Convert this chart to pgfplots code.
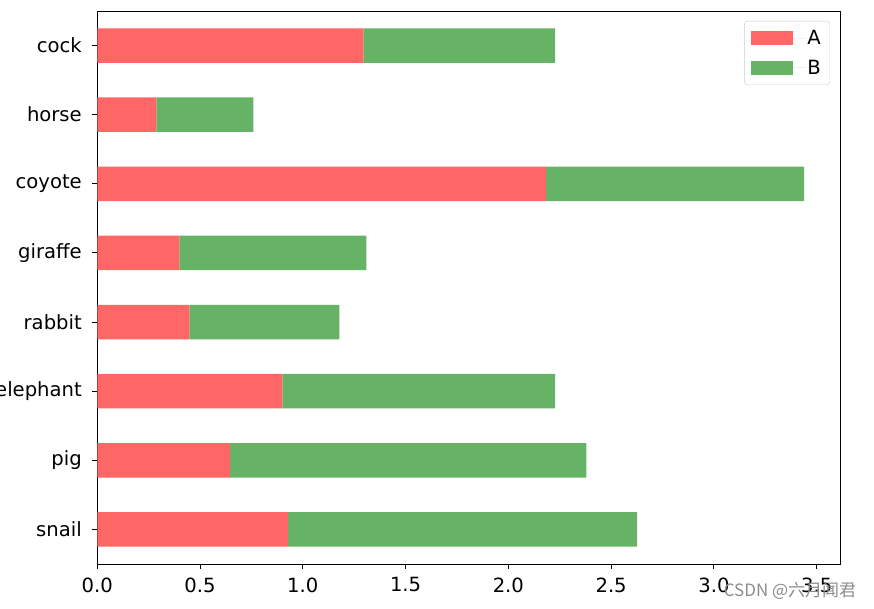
\documentclass[border=0pt]{standalone}
\usepackage{pgfplots}
\pgfplotsset{compat=1.18}
\usepackage{fontspec}
\setmainfont{DejaVu Sans}
\newfontfamily\cjk{Noto Sans CJK SC}

\definecolor{barA}{RGB}{255,102,102}
\definecolor{barB}{RGB}{102,179,102}

\begin{document}
\begin{tikzpicture}
\begin{axis}[
    name=ax,
    scale only axis,
    width=743.4pt, height=553pt,
    xbar stacked,
    bar width=0.5,
    xmin=0, xmax=3.617,
    ymin=-0.5, ymax=7.5,
    xtick={0,0.5,...,3.5},
    ytick={0,...,7},
    yticklabels={snail,pig,elephant,rabbit,giraffe,coyote,horse,cock},
    xticklabel style={/pgf/number format/fixed,/pgf/number format/precision=1,/pgf/number format/fixed zerofill, yshift=-5pt},
    yticklabel style={xshift=-7pt},
    /pgf/number format/assume math mode=true,
    tick label style={font=\fontsize{19.6}{23}\selectfont},
    tick align=outside, tick pos=left,
    major tick length=5pt,
    every tick/.style={black, line width=0.9pt},
    axis line style={line width=0.9pt},
    legend cell align=left,
    legend style={at={(0.9856,0.982)}, anchor=north east,
        draw=black!20, rounded corners=3pt, fill=white,
        font=\fontsize{19.6}{23}\selectfont,
        row sep=10pt, inner xsep=7pt, inner ysep=7pt},
    legend image code/.code={
        \fill[#1, sharp corners] (0pt,-7pt) rectangle (42pt,7pt);
        \path (0pt,0pt) -- (54pt,0pt);},
]
\addplot[fill=barA, draw=none] coordinates {
    (0.929,0) (0.646,1) (0.900,2) (0.448,3) (0.399,4) (2.183,5) (0.287,6) (1.295,7)};
\addplot[fill=barB, draw=none] coordinates {
    (1.697,0) (1.734,1) (1.327,2) (0.730,3) (0.910,4) (1.256,5) (0.472,6) (0.932,7)};
\legend{A,B}
\end{axis}
\node[text=black!45, font=\cjk\fontsize{17}{20}\selectfont] at ([shift={(692.7pt,-27pt)}]ax.south west) {CSDN @六月闻君};
\pgfresetboundingbox
\path[use as bounding box] ([shift={(-97.3pt,-45pt)}]ax.south west) rectangle ([shift={(33.3pt,11pt)}]ax.north east);
\end{tikzpicture}
\end{document}
